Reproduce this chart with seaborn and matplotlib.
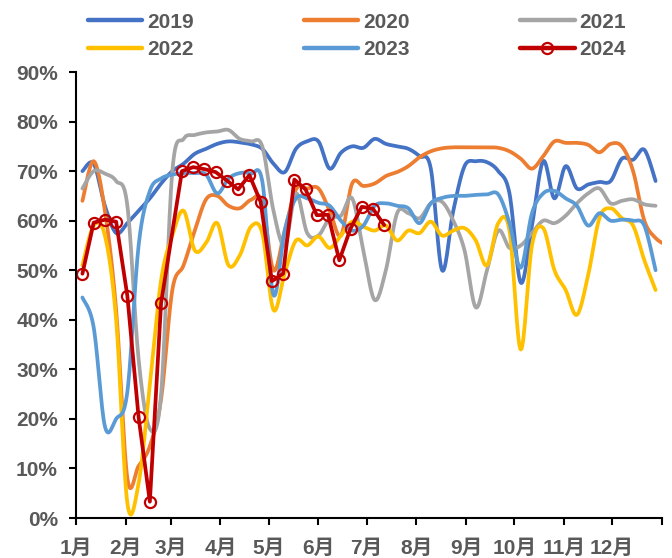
import numpy as np
import pandas as pd
import matplotlib
matplotlib.use("Agg")
import matplotlib.pyplot as plt
import seaborn as sns
from matplotlib.lines import Line2D
from matplotlib.ticker import PercentFormatter

# ---- data -----------------------------------------------------------------
years = ["2019", "2020", "2021", "2022", "2023", "2024"]
colors = ["#4472C4", "#ED7D31", "#A5A5A5", "#FFC000", "#5B9BD5", "#C00000"]

# weekly rates (%), one value per week starting from the first week of January
rate_2019 = [70, 71.5, 63, 57.5, 59.5, 62, 64.5, 67.5, 70, 71.5, 73.5, 74.5, 75.5,
             76, 75.8, 75.4, 74.5, 71.5, 69.8, 74.5, 76, 76, 70.5, 73.7, 75, 74.7,
             76.5, 75.5, 75, 74.5, 73, 70.5, 50, 62, 71, 72, 71.8, 70, 65.5, 47.5,
             59, 72, 64.5, 71, 66.5, 67.3, 67.8, 68, 72.5, 72.3, 74.3, 68]
rate_2020 = [64, 72, 62, 42, 8, 10.5, 14.5, 24, 46, 51, 58, 64.3, 65, 63, 62.5,
             64.2, 63.8, 50, 58, 66.3, 66.5, 66.5, 62, 57, 67.5, 67, 67.5, 69,
             69.8, 71, 72.8, 74, 74.6, 74.8, 74.8, 74.8, 74.8, 74.7, 74, 72.5,
             70.5, 73, 76, 75.7, 75.7, 75.3, 73.8, 75.5, 75, 70, 60, 56.5, 55]
rate_2021 = [66.5, 70, 69.5, 68, 63, 32, 18, 25, 70, 76.5, 77.3, 77.8, 78, 78.3,
             76.5, 76, 75, 62, 55, 65.5, 57.5, 57, 60.5, 61, 64.5, 54, 44, 50,
             61.5, 61.5, 60.5, 63.5, 63.8, 60, 54, 42.5, 50, 58, 54.5, 55, 57.5,
             60, 59.5, 61, 63.5, 65.5, 66.5, 63.5, 64, 64.3, 63.3, 63]
rate_2022 = [51, 59, 57, 40, 3, 7, 27, 48, 57, 62, 54, 55.5, 59.5, 51, 53, 58.8,
             57.5, 42, 49.4, 56, 55, 56.8, 54.5, 57, 59.8, 58.8, 58, 59, 56, 58,
             57.5, 59.8, 57, 58, 58.5, 56, 51, 59.5, 58, 34, 55, 58.5, 50, 46, 41,
             49, 60.5, 62.5, 60.5, 59, 52, 46]
rate_2023 = [44.5, 38.5, 18.5, 20, 25.5, 55, 66, 68.5, 69.3, 69.6, 69.6, 69.3,
             65.5, 68.5, 69.6, 69.5, 68, 45, 58, 64.5, 64.5, 63.6, 63, 60, 58, 59,
             63, 63.5, 63, 62.5, 59.5, 63.5, 64.6, 65, 65, 65.2, 65.3, 65.3, 59.5,
             50.5, 61.5, 65.5, 66, 64.5, 63, 59, 61.5, 60, 60.2, 60, 59, 50]

dates_2024 = ["01-05", "01-12", "01-19", "01-26", "02-02", "02-09", "02-16",
              "02-23", "03-08", "03-15", "03-22", "03-29", "04-05", "04-12",
              "04-19", "04-26", "05-03", "05-10", "05-17", "05-24", "05-31",
              "06-07", "06-14", "06-21", "06-28", "07-05", "07-12"]
rate_2024 = [49.3, 59.6, 60.2, 59.8, 44.8, 20.3, 3.3, 43.4, 70, 70.8, 70.4, 69.8,
             68.1, 66.3, 69.2, 63.8, 47.8, 49.3, 68.3, 66.3, 61.1, 61.2, 52.0,
             58.4, 62.8, 62.4, 59.1]

month_starts = [0, 31, 59, 90, 120, 151, 181, 212, 243, 273, 304, 334, 365]
month_labels = ["1月", "2月", "3月", "4月", "5月", "6月", "7月", "8月", "9月",
                "10月", "11月", "12月", ""]


# ---- helpers ----------------------------------------------------------------
def week_days(n):
    return 4 + 7 * np.arange(n)


def mmdd_to_day(s):
    m, d = (int(p) for p in s.split("-"))
    return month_starts[m - 1] + d - 1


def smooth_curve(x, y, steps=16):
    """Catmull-Rom curve through the points, like a smoothed office line chart."""
    p = np.column_stack([x, y]).astype(float)
    p = np.vstack([p[0], p, p[-1]])
    t = np.linspace(0, 1, steps, endpoint=False)[:, None]
    out = []
    for i in range(1, len(p) - 2):
        p0, p1, p2, p3 = p[i - 1], p[i], p[i + 1], p[i + 2]
        seg = 0.5 * ((2 * p1) + (-p0 + p2) * t
                     + (2 * p0 - 5 * p1 + 4 * p2 - p3) * t ** 2
                     + (-p0 + 3 * p1 - 3 * p2 + p3) * t ** 3)
        out.append(seg)
    out.append(p[-2][None, :])
    out = np.vstack(out)
    return out[:, 0], out[:, 1]


series = {"2019": rate_2019, "2020": rate_2020, "2021": rate_2021,
          "2022": rate_2022, "2023": rate_2023}
frames = []
for yr, vals in series.items():
    sx, sy = smooth_curve(week_days(len(vals)), vals)
    frames.append(pd.DataFrame({"day": sx, "rate": sy, "year": yr}))
curves = pd.concat(frames, ignore_index=True)

df_2024 = pd.DataFrame({"day": [mmdd_to_day(s) for s in dates_2024],
                        "rate": rate_2024})

# ---- figure -----------------------------------------------------------------
sns.set_style("ticks")
plt.rcParams["font.family"] = ["Liberation Sans", "Noto Sans CJK SC"]
plt.rcParams["font.weight"] = "bold"

text_color = "#595959"
fig = plt.figure(figsize=(6.72, 5.58), dpi=100)
ax = fig.add_axes([76 / 672, 40 / 558, 586 / 672, 446 / 558])

sns.lineplot(data=curves, x="day", y="rate", hue="year", hue_order=years[:5],
             palette=colors[:5], estimator=None, sort=False, linewidth=2.7,
             legend=False, ax=ax)
sns.lineplot(data=df_2024, x="day", y="rate", color=colors[5], estimator=None,
             sort=False, linewidth=2.7, marker="o", markersize=8,
             markerfacecolor="none", markeredgecolor=colors[5],
             markeredgewidth=1.6, legend=False, ax=ax)

ax.set_xlim(0, 365)
ax.set_ylim(0, 90)
ax.set_xticks(month_starts)
ax.set_xticklabels(month_labels)
ax.set_yticks(np.arange(0, 91, 10))
ax.yaxis.set_major_formatter(PercentFormatter(decimals=0))
ax.set_xlabel("")
ax.set_ylabel("")

for side in ("top", "right"):
    ax.spines[side].set_visible(False)
for side in ("left", "bottom"):
    ax.spines[side].set_color("black")
    ax.spines[side].set_linewidth(1.5)
ax.tick_params(axis="both", colors="black", width=1.5, length=5,
               labelsize=15, labelcolor=text_color, pad=8)
ax.tick_params(axis="x", pad=10)

handles = [Line2D([], [], color=c, linewidth=3.2) for c in colors[:5]]
handles.append(Line2D([], [], color=colors[5], linewidth=3.2, marker="o",
                      markersize=8, markerfacecolor="none",
                      markeredgecolor=colors[5], markeredgewidth=1.6))
order = [0, 3, 1, 4, 2, 5]
fig.legend([handles[i] for i in order], [years[i] for i in order],
           ncol=3, loc="center", bbox_to_anchor=(357 / 672, 1 - 36 / 558),
           frameon=False, fontsize=15, labelcolor=text_color,
           handlelength=2.6, handletextpad=0.25, columnspacing=5.3,
           labelspacing=0.42, borderaxespad=0, numpoints=1)

fig.savefig("out.png", dpi=100)
